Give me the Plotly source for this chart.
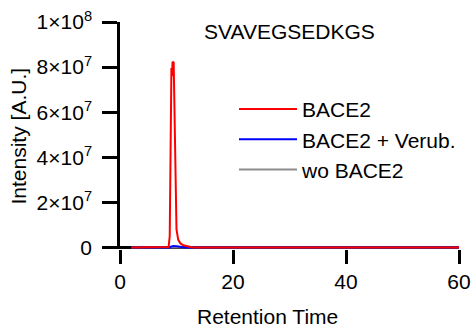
import plotly.graph_objects as go

# ---- data ----
t_bace2 = [2.0, 8.0, 8.6, 8.8, 8.95, 9.1, 9.2, 9.3, 9.5, 9.65, 9.8, 10.0, 10.3, 10.7, 11.2, 12.0, 12.7, 13.5, 60.0]
y_bace2 = [0, 0, 2e5, 5e6, 4.5e7, 7.96e7, 7.6e7, 8.24e7, 8.2e7, 6.2e7, 3.0e7, 8.0e6, 3.5e6, 1.8e6, 1.0e6, 4e5, 1e5, 0, 0]

t_verub = [2.0, 8.8, 9.0, 9.5, 10.0, 10.8, 11.5, 60.0]
y_verub = [0, 0, 4e5, 7e5, 6e5, 3e5, 0, 0]

t_wo = [2.0, 10.0, 20.0, 30.0, 40.0, 50.0, 60.0]
y_wo = [0, 0, 0, 0, 0, 0, 0]

x_ticks = [0, 20, 40, 60]
y_ticks = [0, 2e7, 4e7, 6e7, 8e7, 1e8]
y_ticktext = ["0", "2×10<sup>7</sup>", "4×10<sup>7</sup>", "6×10<sup>7</sup>",
              "8×10<sup>7</sup>", "1×10<sup>8</sup>"]

title_text = "SVAVEGSEDKGS"
x_title = "Retention Time"
y_title = "Intensity [A.U.]"

FONT = "Arial, Liberation Sans, sans-serif"
FS = 21

fig = go.Figure()
fig.add_trace(go.Scatter(x=t_wo, y=y_wo, mode="lines", name="wo BACE2",
                         line=dict(color="#8c8c8c", width=2), legendrank=3, legendgroup="c"))
fig.add_trace(go.Scatter(x=t_verub, y=y_verub, mode="lines", name="BACE2 + Verub.",
                         line=dict(color="#0000ff", width=2), legendrank=2, legendgroup="b"))
fig.add_trace(go.Scatter(x=t_bace2, y=y_bace2, mode="lines", name="BACE2",
                         line=dict(color="#ff0000", width=2), legendrank=1, legendgroup="a"))

W, H = 476, 329
L, R, T, B = 120, 17, 22, 79.5
pw = W - L - R
ph = H - T - B

fig.update_layout(
    width=W, height=H,
    margin=dict(l=L, r=R, t=T, b=B, pad=0, autoexpand=False),
    paper_bgcolor="white", plot_bgcolor="white",
    font=dict(family=FONT, size=FS, color="black"),
    showlegend=True,
    legend=dict(x=(234 - L) / pw, y=1 - (89 - T) / ph, xanchor="left", yanchor="top",
                bgcolor="rgba(0,0,0,0)", font=dict(size=FS), itemwidth=58,
                traceorder="grouped", tracegroupgap=0),
    xaxis=dict(range=[0, 60], tickvals=x_ticks, ticks="outside", ticklen=14, tickwidth=2.5,
               tickcolor="black", showline=False, showgrid=False, zeroline=False,
               tickfont=dict(size=FS)),
    yaxis=dict(range=[-0.66e6, 1e8], tickvals=y_ticks, ticktext=y_ticktext,
               ticks="outside", ticklen=15, tickwidth=2.5, tickcolor="black",
               showline=True, linecolor="black", linewidth=2.5, showgrid=False,
               zeroline=True, zerolinecolor="black", zerolinewidth=2.5,
               ticklabelstandoff=6, tickfont=dict(size=FS)),
    annotations=[
        dict(text=title_text, xref="paper", yref="paper", x=0.5, y=1 - (32 - T) / ph,
             xanchor="center", yanchor="middle", showarrow=False, font=dict(size=FS)),
        dict(text=x_title, xref="paper", yref="paper", x=(267 - L) / pw, y=-(317 - (T + ph)) / ph,
             xanchor="center", yanchor="middle", showarrow=False, font=dict(size=FS)),
        dict(text=y_title, xref="paper", yref="paper", x=(18 - L) / pw, y=0.5, textangle=-90,
             xanchor="center", yanchor="middle", showarrow=False, font=dict(size=FS)),
    ],
)

fig.write_html("out.html")
